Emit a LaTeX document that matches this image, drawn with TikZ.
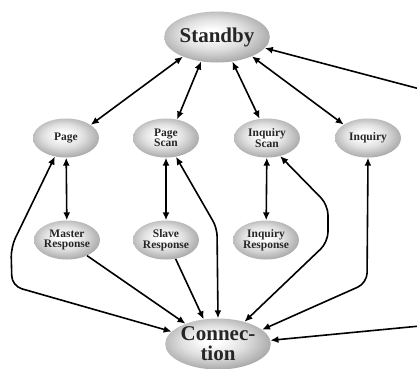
\documentclass[tikz,border=0pt]{standalone}
\usepackage{fontspec}
\setmainfont{Liberation Serif}
\usetikzlibrary{shapes.geometric,arrows.meta}
\pgfdeclareradialshading{softball}{\pgfpoint{-3bp}{4bp}}{color(0bp)=(white); color(4bp)=(white); color(15bp)=(black!12); color(27bp)=(black!33); color(40bp)=(black!45); color(60bp)=(black!50)}
\begin{document}
\begin{tikzpicture}[x=1pt,y=-1pt,
  state/.style={ellipse, inner sep=0pt, shading=softball,
    font=\bfseries\fontsize{11.5}{10.5}\selectfont, text=black!85, align=center},
  bigstate/.style={state, minimum width=99pt, minimum height=51pt, font=\bfseries\fontsize{21}{20}\selectfont},
  smallstate/.style={state, minimum width=66pt, minimum height=39pt},
  link/.style={line width=1.6pt, {Latex[length=8pt,width=7pt]}-{Latex[length=8pt,width=7pt]}},
  onelink/.style={line width=1.6pt, -{Latex[length=8pt,width=7pt]}}]
\useasboundingbox (0,0) rectangle (417,368);
\node[bigstate] (standby) at (217,37) {Standby};
\node[bigstate] (conn) at (218,344) {Connec-\\tion};
\node[smallstate] (page) at (66,138) {Page};
\node[smallstate] (pscan) at (166,138) {Page\\Scan};
\node[smallstate] (iscan) at (267,138) {Inquiry\\Scan};
\node[smallstate] (inq) at (368,138) {Inquiry};
\node[smallstate] (mresp) at (67,240) {Master\\Response};
\node[smallstate] (sresp) at (166,240) {Slave\\Response};
\node[smallstate] (iresp) at (266,240) {Inquiry\\Response};
\coordinate (rtop) at (420,89);
\coordinate (rbot) at (420,326);
% standby links
\draw[link] (standby.210) -- (page.28);
\draw[link] (standby.237) -- (pscan.59);
\draw[link] (standby.302) -- (iscan.111);
\draw[link] (standby.331) -- (inq.151);
\draw[onelink] (rtop) -- (standby.-13);
% vertical pairs
\draw[link] (page) -- (mresp);
\draw[link] (pscan) -- (sresp);
\draw[link] (iscan) -- (iresp);
% responses to connection
\draw[onelink] (mresp.-38) -- (conn.148);
\draw[onelink] (sresp.-63) -- (conn.120);
% long curves
\draw[link, rounded corners=10pt] (page.239) -- (11,247) -- (12,286) -- (conn.165);
\draw[link, rounded corners=8pt] (pscan.298) -- (217,228) -- (conn.north);
\draw[link, rounded corners=10pt] (iscan.306) -- (328,205) -- (328,242) -- (conn.40);
\draw[link, rounded corners=10pt] (inq.south) -- (367,283) -- (conn.18);
\draw[onelink] (rbot) -- (conn.4);
\end{tikzpicture}
\end{document}
